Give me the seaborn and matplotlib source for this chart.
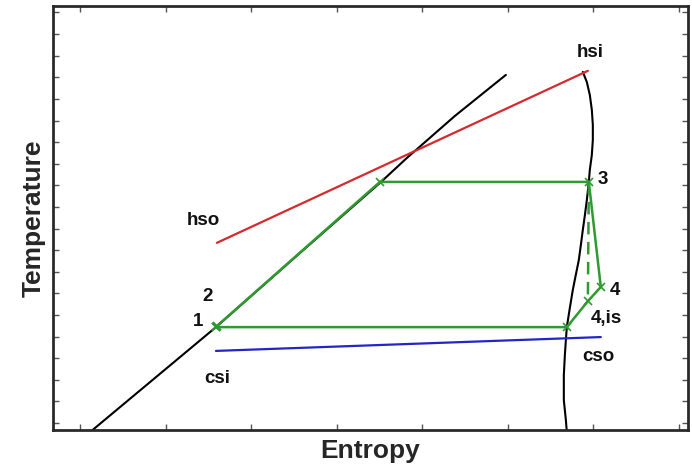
import numpy as np
import pandas as pd
import matplotlib
matplotlib.use("Agg")
import matplotlib.pyplot as plt
import seaborn as sns

# ---- data (arbitrary entropy units vs temperature) ----
liq_s = [1.06, 1.117, 2.589, 3.570, 4.505, 4.820, 5.381, 5.977]
liq_T = [276.9, 277.9, 302.2, 319.35, 335.56, 341.34, 351.06, 360.56]

vap_s = [6.876, 6.923, 6.958, 6.981, 6.993, 6.993, 6.981, 6.958, 6.946, 6.923, 6.900,
         6.876, 6.853, 6.829, 6.794, 6.759, 6.724, 6.689, 6.678, 6.666, 6.654, 6.654,
         6.678, 6.689]
vap_T = [361.25, 358.9, 355.9, 352.5, 349.0, 345.5, 342.0, 338.6, 335.8, 331.6, 328.1,
         324.7, 321.2, 317.7, 314.3, 310.8, 306.6, 302.2, 299.2, 295.7, 291.1, 285.3,
         280.7, 277.9]

hot_s = [2.600, 6.935]
hot_T = [321.7, 361.5]

cold_s = [2.589, 7.086]
cold_T = [296.7, 299.9]

cyc_s = [2.589, 2.600, 4.505, 6.946, 7.086, 6.935, 6.689, 2.589]
cyc_T = [302.2, 302.45, 335.8, 335.8, 311.5, 308.2, 302.2, 302.2]

isen_s = [6.946, 6.935]
isen_T = [335.8, 308.2]

labels = ["hsi", "hso", "1", "2", "3", "4", "4,is", "csi", "cso"]
label_s = [6.958, 2.437, 2.379, 2.495, 7.110, 7.250, 7.157, 2.600, 7.063]
label_T = [365.8, 326.8, 303.4, 309.2, 336.25, 310.6, 304.1, 290.4, 295.5]

sns.set_theme(style="white")
plt.rcParams["font.family"] = ["Liberation Sans", "DejaVu Sans"]

fig = plt.figure(figsize=(6.92, 4.71), dpi=100)
ax = fig.add_axes([53/692, 1-430/471, (688-53)/692, (430-6)/471])

green = "#2f9a2f"
sns.lineplot(x=liq_s, y=liq_T, sort=False, estimator=None, color="black", lw=1.5, ax=ax)
sns.lineplot(x=vap_s, y=vap_T, sort=False, estimator=None, color="black", lw=1.5, ax=ax)
sns.lineplot(x=hot_s, y=hot_T, sort=False, estimator=None, color="#d42a2f", lw=1.6, ax=ax)
sns.lineplot(x=cold_s, y=cold_T, sort=False, estimator=None, color="#2424c8", lw=1.6, ax=ax)
sns.lineplot(x=cyc_s, y=cyc_T, sort=False, estimator=None, color=green, lw=1.8,
             marker="x", markersize=6, markeredgecolor=green, markeredgewidth=1.2, ax=ax)
sns.lineplot(x=isen_s, y=isen_T, sort=False, estimator=None, color=green, lw=1.8,
             linestyle=(0, (5, 3)), ax=ax)

for t, s, T in zip(labels, label_s, label_T):
    ax.text(s, T, t, fontsize=13.5, fontweight="bold", ha="center", va="center", color="#111111")

ax.set_xlim(0.685, 8.105)
ax.set_ylim(278.4, 376.5)
ax.set_xticks(np.arange(1, 9))
ax.set_yticks(np.arange(280, 380, 5))
ax.set_xticklabels([])
ax.set_yticklabels([])
ax.tick_params(direction="in", length=4, width=1, color="#555555",
               top=True, right=True, bottom=True, left=True)
for sp in ax.spines.values():
    sp.set_visible(True)
    sp.set_linewidth(2)
    sp.set_color("#2a2a2a")

ax.set_xlabel("Entropy", fontsize=19, fontweight="bold", labelpad=3)
ax.set_ylabel("Temperature", fontsize=19, fontweight="bold", labelpad=2)

fig.savefig("out.png", dpi=100)
